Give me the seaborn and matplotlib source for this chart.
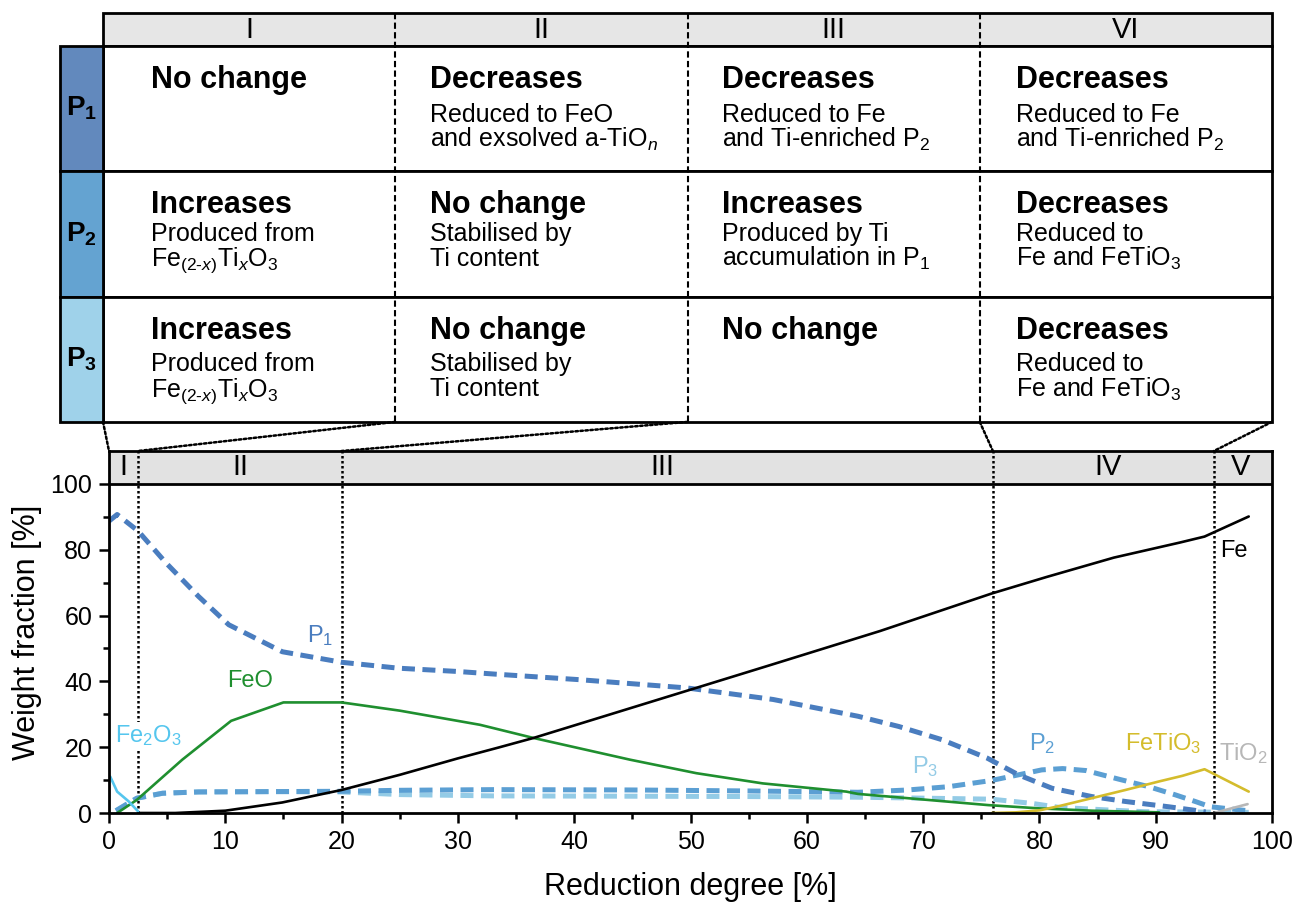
import matplotlib
matplotlib.use("Agg")
import matplotlib.pyplot as plt
import seaborn as sns
from matplotlib.patches import Rectangle, ConnectionPatch

sns.set_style("ticks")
plt.rcParams["font.family"] = ["Liberation Sans", "DejaVu Sans"]
plt.rcParams["mathtext.fontset"] = "custom"
plt.rcParams["mathtext.rm"] = "Liberation Sans"
plt.rcParams["mathtext.it"] = "Liberation Sans:italic"
plt.rcParams["mathtext.bf"] = "Liberation Sans:bold"
plt.rcParams["mathtext.default"] = "regular"
for key in ["text.color", "axes.labelcolor", "xtick.color", "ytick.color", "axes.edgecolor"]:
    plt.rcParams[key] = "black"

# ---- data ----
fe2o3_x = [0.1, 0.7, 1.7, 2.5]
fe2o3_y = [11.1, 6.5, 3.5, 0.5]

feo_x = [0.7, 2.4, 6.3, 10.5, 15, 20, 25, 31.9, 36.5, 44.8, 50.5, 56.2, 63.4, 64.4, 75.6, 80, 84.5, 90.3]
feo_y = [0.0, 4.0, 16.2, 28.0, 33.6, 33.6, 31.1, 26.8, 22.8, 16.2, 12.1, 9.0, 6.5, 5.8, 2.4, 1.4, 0.7, 0.2]

fe_x = [2.5, 5.7, 10, 14.9, 20, 25, 30, 33.5, 36.5, 40, 49.1, 57, 66.3, 75.9, 80.6, 86.4, 92.1, 94.2, 98]
fe_y = [0.0, 0.0, 0.7, 3.2, 7.0, 11.6, 16.6, 19.9, 22.8, 26.6, 36.5, 45.1, 55.3, 66.7, 71.7, 77.6, 82.2, 84.0, 90.1]

p1_x = [0, 0.7, 2.5, 4.9, 7.7, 10.3, 14.9, 20, 24.9, 30, 33.2, 40.5, 49.7, 57.1, 64.4,
        67.9, 71.6, 75.5, 78.2, 81.1, 84.5, 87.4, 91.1, 93.2, 94.3]
p1_y = [88.7, 90.7, 85.7, 76.0, 65.8, 57.2, 49.0, 45.8, 44.0, 43.0, 42.2, 40.5, 38.0, 34.5, 29.4,
        26.3, 22.3, 16.7, 11.6, 7.5, 5.0, 3.5, 1.9, 0.9, 0.3]

p2_x = [0.6, 1.4, 2.4, 4.6, 7.7, 14, 20, 25, 33, 45, 55, 64.4, 68.7, 72.2, 75.9, 78.2,
        80.2, 82, 84, 86.8, 89.4, 91.7, 93.4, 94.7, 96, 97.9]
p2_y = [0.7, 2.4, 4.5, 6.0, 6.4, 6.5, 6.6, 6.9, 7.1, 7.0, 6.7, 6.3, 7.0, 8.0, 9.9, 11.6,
        13.1, 13.5, 12.9, 10.3, 8.0, 5.5, 3.5, 1.9, 1.4, 0.7]

p3_x = [0.6, 1.4, 2.4, 4.6, 7.7, 14, 20, 25, 33, 45, 55, 64.4, 70.2, 75.9, 79.4, 81.7, 86, 89, 93, 98]
p3_y = [0.7, 2.4, 4.5, 6.0, 6.4, 6.5, 6.4, 5.6, 5.2, 5.1, 5.0, 4.8, 4.5, 4.2, 2.9, 1.7, 0.9, 0.4, 0.3, 0.2]

fetio3_x = [75.9, 78, 80, 81.7, 84.5, 87.4, 90.3, 92.3, 94.2, 98]
fetio3_y = [0.0, 0.2, 0.8, 2.1, 4.5, 7.0, 9.6, 11.3, 13.3, 6.5]

tio2_x = [95, 97.9]
tio2_y = [0.0, 2.7]

stage_bounds = [2.5, 20, 76, 95]
stage_names = ["I", "II", "III", "IV", "V"]
stage_label_x = [1.2, 11.3, 47.6, 85.9, 97.3]

table_cols = ["I", "II", "III", "VI"]
table_rows = ["P$_\\mathbf{1}$", "P$_\\mathbf{2}$", "P$_\\mathbf{3}$"]
table_cells = [
    [("No change", []),
     ("Decreases", ["Reduced to FeO", "and exsolved a-TiO$_\\mathit{n}$"]),
     ("Decreases", ["Reduced to Fe", "and Ti-enriched P$_2$"]),
     ("Decreases", ["Reduced to Fe", "and Ti-enriched P$_2$"])],
    [("Increases", ["Produced from", "Fe$_{(2\\text{-}\\mathit{x})}$Ti$_\\mathit{x}$O$_3$"]),
     ("No change", ["Stabilised by", "Ti content"]),
     ("Increases", ["Produced by Ti", "accumulation in P$_1$"]),
     ("Decreases", ["Reduced to", "Fe and FeTiO$_3$"])],
    [("Increases", ["Produced from", "Fe$_{(2\\text{-}\\mathit{x})}$Ti$_\\mathit{x}$O$_3$"]),
     ("No change", ["Stabilised by", "Ti content"]),
     ("No change", []),
     ("Decreases", ["Reduced to", "Fe and FeTiO$_3$"])],
]

series = [
    ("P3", p3_x, p3_y, "#93cbe6", 3.6, (0, (2.6, 1.5))),
    ("P2", p2_x, p2_y, "#5b9fd3", 3.6, (0, (2.6, 1.5))),
    ("P1", p1_x, p1_y, "#4a7dbf", 3.6, (0, (2.6, 1.5))),
    ("FeO", feo_x, feo_y, "#1f8f2f", 1.9, "-"),
    ("Fe", fe_x, fe_y, "black", 1.9, "-"),
    ("Fe2O3", fe2o3_x, fe2o3_y, "#55c6ee", 1.9, "-"),
    ("FeTiO3", fetio3_x, fetio3_y, "#d4bc2c", 1.9, "-"),
    ("TiO2", tio2_x, tio2_y, "#b7b7b7", 1.9, "-"),
]

curve_labels = [
    ("P$_1$", 18.2, 54.0, "#4a7dbf"),
    ("FeO", 12.1, 40.0, "#1f8f2f"),
    ("Fe$_2$O$_3$", 3.4, 23.5, "#55c6ee"),
    ("Fe", 96.7, 79.6, "black"),
    ("P$_2$", 80.2, 21.0, "#5b9fd3"),
    ("P$_3$", 70.2, 14.0, "#93cbe6"),
    ("FeTiO$_3$", 90.6, 21.0, "#d4bc2c"),
    ("TiO$_2$", 97.5, 18.0, "#b7b7b7"),
]

fig = plt.figure(figsize=(12.96, 9.05), dpi=100)

# ---- table (pixel-like coordinates) ----
ax_t = fig.add_axes([0, 0, 1, 1])
ax_t.set_xlim(0, 1296)
ax_t.set_ylim(905, 0)
ax_t.axis("off")

tab_left, tab_right, plab_left = 103, 1272, 60
head_top, head_bot = 13, 46
row_h = 125.3
col_w = (tab_right - tab_left) / len(table_cols)
col_edges = [tab_left + i * col_w for i in range(len(table_cols) + 1)]
text_off = [48, 35, 35, 36]
body_off = [75.7, 69.7, 74.7]
row_fill = ["#6289bd", "#64a3d1", "#9fd2ea"]

ax_t.add_patch(Rectangle((tab_left, head_top), tab_right - tab_left, head_bot - head_top,
                         fc="#e6e6e6", ec="black", lw=2))
for c, name in enumerate(table_cols):
    ax_t.text((col_edges[c] + col_edges[c + 1]) / 2, (head_top + head_bot) / 2 + 1, name,
              ha="center", va="center", fontsize=21)

for r in range(3):
    top = head_bot + r * row_h
    ax_t.add_patch(Rectangle((tab_left, top), tab_right - tab_left, row_h,
                             fc="white", ec="black", lw=2))
    ax_t.add_patch(Rectangle((plab_left, top), tab_left - plab_left, row_h,
                             fc=row_fill[r], ec="black", lw=2))
    ax_t.text((plab_left + tab_left) / 2, top + row_h / 2, table_rows[r],
              ha="center", va="center", fontsize=20, fontweight="bold")
    for c in range(4):
        head, body = table_cells[r][c]
        x0 = col_edges[c] + text_off[c]
        ax_t.text(x0, top + 42, head, ha="left", va="baseline",
                  fontsize=22, fontweight="bold")
        for i, line in enumerate(body):
            ax_t.text(x0, top + body_off[r] + 25 * i, line, ha="left",
                      va="baseline", fontsize=18)

table_bot = head_bot + 3 * row_h
for xe in col_edges[1:-1]:
    ax_t.plot([xe, xe], [head_top, table_bot], color="black", lw=1.5,
              linestyle=(0, (3, 1.6)))

# ---- main plot ----
ax = fig.add_axes([109 / 1296, 92 / 905, 1163 / 1296, 362 / 905])
ax.set_xlim(0, 100)
ax.set_ylim(0, 110)

ax.axhspan(100, 110, color="#e2e2e2", zorder=0)
ax.axhline(100, color="black", lw=2, zorder=3)
ax.vlines(stage_bounds, 0, 110, colors="black", lw=1.8, linestyles=(0, (1, 1)), zorder=1)
for name, sx in zip(stage_names, stage_label_x):
    ax.text(sx, 105, name, ha="center", va="center", fontsize=21)

for name, xs, ys, col, lw, ls in series:
    sns.lineplot(x=xs, y=ys, ax=ax, color=col, lw=lw, linestyle=ls,
                 estimator=None, sort=False, zorder=2)

for txt, lx, ly, col in curve_labels:
    kw = {}
    if txt.startswith("Fe$_2$"):
        kw["bbox"] = dict(fc="white", ec="none", pad=1)
    ax.text(lx, ly, txt, color=col, ha="center", va="center", fontsize=17, zorder=4, **kw)

ax.set_xticks(range(0, 101, 10))
ax.set_xticks(range(5, 100, 10), minor=True)
ax.set_yticks(range(0, 101, 20))
ax.set_yticks(range(10, 100, 20), minor=True)
ax.tick_params(which="major", direction="out", length=7, width=1.8, labelsize=18, pad=5,
               color="black", labelcolor="black")
ax.tick_params(which="minor", direction="out", length=4.5, width=1.8, color="black")
for sp in ax.spines.values():
    sp.set_linewidth(2)
    sp.set_color("black")
ax.set_xlabel("Reduction degree [%]", fontsize=22, labelpad=13)
ax.set_ylabel("Weight fraction [%]", fontsize=22, labelpad=6)

# ---- dotted connectors table -> stages ----
for xe, bx in zip(col_edges, [0] + stage_bounds):
    con = ConnectionPatch(xyA=(xe, table_bot), coordsA=ax_t.transData,
                          xyB=(bx, 110), coordsB=ax.transData,
                          color="black", lw=1.8, linestyle=(0, (1, 1)))
    fig.add_artist(con)

fig.savefig("out.png", dpi=100)
plt.close(fig)
